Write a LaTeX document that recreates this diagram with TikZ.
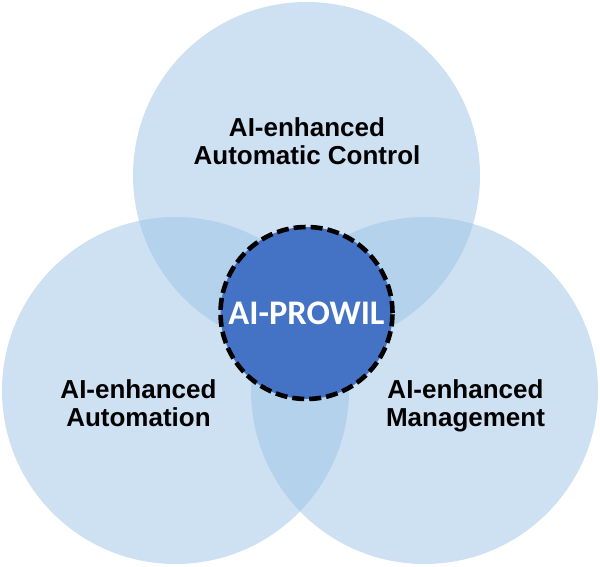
\documentclass[tikz,border=0pt]{standalone}
\usepackage{fontspec}
\setmainfont{Liberation Sans}
\newfontfamily\kernfont{Carlito}
\definecolor{ringblau}{HTML}{9DC3E6}
\definecolor{kernblau}{HTML}{4472C4}
\tikzset{
  ring/.style={circle,fill=ringblau,fill opacity=0.5,minimum size=347pt,inner sep=0pt},
  kern/.style={circle,fill=kernblau,draw=black,line width=4.6pt,dash pattern=on 12pt off 5pt,
    minimum size=172pt,inner sep=0pt,text=white,font=\kernfont\bfseries\fontsize{34.5}{36}\selectfont},
  etikett/.style={align=center,inner sep=0pt,anchor=north,font=\bfseries\fontsize{26}{28}\selectfont},
}

\begin{document}
\begin{tikzpicture}[x=1pt,y=-1pt]
  \useasboundingbox (0,0) rectangle (600,567);
  % drei Bereiche
  \node[ring] (steuerung) at (306.5,175.5) {};
  \node[ring] (automation) at (175.5,390.5) {};
  \node[ring] (management) at (424.5,390.5) {};
  % Kern
  \node[kern] (prowil) at (306.5,313) {AI-PROWIL};
  % Beschriftungen
  \node[etikett] (tsteuerung) at (307,117.5) {AI-enhanced\\Automatic Control};
  \node[etikett] (tautomation) at (138.5,379.5) {AI-enhanced\\Automation};
  \node[etikett] (tmanagement) at (465.5,379.5) {AI-enhanced\\Management};
\end{tikzpicture}
\end{document}
